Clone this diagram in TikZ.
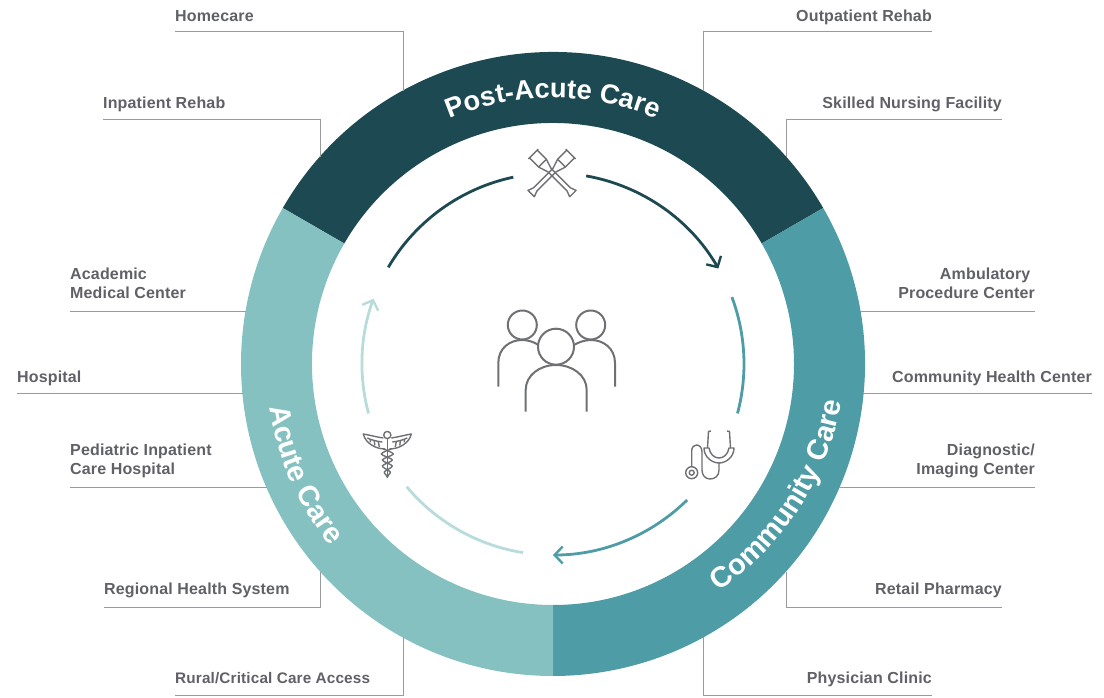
\documentclass[tikz,border=0pt]{standalone}
\usepackage{fontspec}
\setmainfont{Liberation Sans}
\newfontfamily\lblfont{Liberation Sans}[LetterSpace=1.0]
\usetikzlibrary{arrows.meta,calc,positioning,decorations.text}

\definecolor{postcol}{HTML}{1D4A52}
\definecolor{commcol}{HTML}{4E9CA5}
\definecolor{acutecol}{HTML}{85C1C0}
\definecolor{acutepale}{HTML}{B7DCDB}
\definecolor{labelcol}{HTML}{5F6166}
\definecolor{leadcol}{HTML}{9A9B9D}
\definecolor{iconcol}{HTML}{6E7074}

\newcommand{\ringfont}{\fontsize{27.3}{27}\selectfont\bfseries}
\newcommand{\ringfontb}{\fontsize{29}{29}\selectfont\bfseries}

\tikzset{
  x=1pt,y=1pt,
  lbl/.style={font=\lblfont\fontsize{16}{19}\selectfont\bfseries,text=labelcol,
              inner sep=0pt,text depth=3pt},
  leader/.style={draw=leadcol,line width=1pt},
  flow/.style={line width=2.8pt,>={Straight Barb[length=8pt,width=17pt,line width=2.4pt]}},
  icon/.style={draw=iconcol,line width=2pt,line join=round},
  thin icon/.style={draw=iconcol,line width=1.4pt,line join=round},
  crutch/.pic={
    \draw[thin icon] (-7,0) -- (7,0);
    \draw[thin icon] (-5.5,0) -- (-5.5,-13) -- (-2.3,-23) -- (-2.3,-50) -- (-4.5,-56) -- (4.5,-56)
                     -- (2.3,-50) -- (2.3,-23) -- (5.5,-13) -- (5.5,0);
    \draw[thin icon] (-5.5,-13) -- (5.5,-13);
  }
}

\begin{document}
\begin{tikzpicture}
%
  \useasboundingbox (0,0) rectangle (1104,697);
%
  % ring and flow arcs
  \begin{scope}[shift={(553,333)}]
    \fill[postcol] (150:312) arc (150:30:312) -- (30:241) arc (30:150:241) -- cycle;
    \fill[commcol] (30:312) arc (30:-90:312) -- (-90:241) arc (-90:30:241) -- cycle;
    \fill[acutecol] (270:312) arc (270:150:312) -- (150:241) arc (150:270:241) -- cycle;
%
    \path[decorate,decoration={text along path,text align=center,text color=white,
          text={|\ringfont|Post-Acute Care}}] (150:266) arc (150:30:266);
    \path[decorate,decoration={text along path,text align=center,text color=white,
          text={|\ringfontb|Community Care}}] ($(8,10)+(-93:284.5)$) arc (-93:27:284.5);
    \path[decorate,decoration={text along path,text align=center,text color=white,
          text={|\ringfontb|Acute Care}}] (144:287) arc (144:264:287);
%
    \draw[flow,postcol] (149.6:191) arc (149.6:102:191);
    \draw[flow,postcol,->] (80:191) arc (80:30:191);
    \draw[flow,commcol] (20.5:191) arc (20.5:-15:191);
    \draw[flow,commcol,->] (-45.4:191) arc (-45.4:-90:191);
    \draw[flow,acutepale] (261:191) arc (261:220:191);
    \draw[flow,acutepale,->] (195:191) arc (195:160:191);
  \end{scope}
%
  % left side labels
  \coordinate (hcStart) at (175,665);
  \coordinate (hcEnd) at (403,606);
  \node[lbl,above right=7pt and 0pt of hcStart] (homecare) {Homecare};
  \draw[leader] (hcStart) -| (hcEnd);
%
  \coordinate (irStart) at (103,577);
  \coordinate (irEnd) at (320,540);
  \node[lbl,above right=8pt and 0pt of irStart] (inpatient) {Inpatient Rehab};
  \draw[leader] (irStart) -| (irEnd);
%
  \coordinate (amStart) at (70,385);
  \coordinate (amEnd) at (246,385);
  \node[lbl,align=left,above right=10pt and 0pt of amStart] (academic) {Academic\\Medical Center};
  \draw[leader] (amStart) -- (amEnd);
%
  \coordinate (hoStart) at (17,303);
  \coordinate (hoEnd) at (243,303);
  \node[lbl,above right=8pt and 0pt of hoStart] (hospital) {Hospital};
  \draw[leader] (hoStart) -- (hoEnd);
%
  \coordinate (peStart) at (70,209);
  \coordinate (peEnd) at (267,209);
  \node[lbl,align=left,above right=10pt and 0pt of peStart] (pediatric) {Pediatric Inpatient\\Care Hospital};
  \draw[leader] (peStart) -- (peEnd);
%
  \coordinate (reStart) at (104,90);
  \coordinate (reEnd) at (320,125);
  \node[lbl,above right=9pt and 0pt of reStart] (regional) {Regional Health System};
  \draw[leader] (reStart) -| (reEnd);
%
  \coordinate (ruStart) at (175,2);
  \coordinate (ruEnd) at (403,60);
  \node[lbl,font=\lblfont\fontsize{15.3}{19}\selectfont\bfseries,above right=8pt and 0pt of ruStart] (rural) {Rural/Critical Care Access};
  \draw[leader] (ruStart) -| (ruEnd);
%
  % right side labels
  \coordinate (orStart) at (932,665);
  \coordinate (orEnd) at (703,606);
  \node[lbl,above left=7pt and 0pt of orStart] (outpatient) {Outpatient Rehab};
  \draw[leader] (orStart) -| (orEnd);
%
  \coordinate (snStart) at (1002,577);
  \coordinate (snEnd) at (786,540);
  \node[lbl,above left=8pt and 0pt of snStart] (skilled) {Skilled Nursing Facility};
  \draw[leader] (snStart) -| (snEnd);
%
  \coordinate (apStart) at (1035,385);
  \coordinate (apEnd) at (860,385);
  \node[lbl,align=right,above left=10pt and 0pt of apStart] (ambulatory) {Ambulatory\hspace*{4.5pt}\\Procedure Center};
  \draw[leader] (apStart) -- (apEnd);
%
  \coordinate (chStart) at (1092,303);
  \coordinate (chEnd) at (863,303);
  \node[lbl,above left=8pt and 0pt of chStart] (community) {Community Health Center};
  \draw[leader] (chStart) -- (chEnd);
%
  \coordinate (diStart) at (1035,209);
  \coordinate (diEnd) at (839,209);
  \node[lbl,align=right,above left=10pt and 0pt of diStart] (diagnostic) {Diagnostic/\\Imaging Center};
  \draw[leader] (diStart) -- (diEnd);
%
  \coordinate (rpStart) at (1002,90);
  \coordinate (rpEnd) at (786,125);
  \node[lbl,above left=9pt and 0pt of rpStart] (retail) {Retail Pharmacy};
  \draw[leader] (rpStart) -| (rpEnd);
%
  \coordinate (pcStart) at (932,2);
  \coordinate (pcEnd) at (703,60);
  \node[lbl,above left=8pt and 0pt of pcStart] (physician) {Physician Clinic};
  \draw[leader] (pcStart) -| (pcEnd);
%
  % people
  \draw[icon] (522.3,372) circle (14.5);
  \draw[icon] (590.7,372) circle (14.5);
  \draw[icon] (556,350.3) circle (18);
  \draw[icon] (498.3,310.3) -- (498.3,334)
       .. controls (498.3,349) and (510,357) .. (522,357) .. controls (528,357) and (534,355) .. (538.5,352);
  \draw[icon] (615,310.3) -- (615,334)
       .. controls (615,349) and (603,357) .. (591,357) .. controls (585,357) and (579,355) .. (574,352);
  \draw[icon] (525.7,285.3) -- (525.7,307) .. controls (525.7,322) and (540,332) .. (556,332)
       .. controls (572,332) and (586.7,322) .. (586.7,307) -- (586.7,285.3);
%
  % crutches
  \pic[rotate=45] at (533.3,543) {crutch};
  \pic[rotate=-45] at (570.7,543) {crutch};
%
  % caduceus
  \begin{scope}[shift={(387.3,239)}]
    \draw[thin icon] (0,23) circle (3.6);
    \draw[thin icon] (0,19.4) -- (0,-20);
    \foreach \s in {1,-1} {
      \begin{scope}[xscale=\s]
        \draw[thin icon] (4,20) .. controls (11,21) and (18,23) .. (24,24)
             .. controls (22,15) and (12,9) .. (2,9);
        \draw[thin icon] (5,16) .. controls (10,16.5) and (16,18) .. (20,20);
        \draw[thin icon] (9,16.5) -- (8,11) (13,17) -- (12.5,12.5) (17,18.5) -- (17,15.5);
        \draw[thin icon] plot[smooth] coordinates {(-4,9) (6,4) (-5,-2) (5,-8) (-3,-14) (1,-19)};
      \end{scope}
    }
  \end{scope}
%
  % stethoscope
  \draw[thin icon] (711,266) -- (708.5,265.5) -- (707.5,249);
  \draw[thin icon] (727,266) -- (729.5,265.5) -- (730.5,249);
  \draw[thin icon] (704,249) .. controls (704,240) and (712,234) .. (719,234)
       .. controls (726,234) and (734,240) .. (734,249) -- (729,249)
       .. controls (728,243) and (724,239) .. (719,239)
       .. controls (714,239) and (710,243) .. (709,249) -- cycle;
  \draw[thin icon] (719,234) -- (719,227) .. controls (719,221) and (715,218) .. (710,218)
       .. controls (705,218) and (702,222) .. (702,227) -- (702,245)
       .. controls (702,250) and (699,252) .. (696.5,252)
       .. controls (694,252) and (691.7,250) .. (691.7,246) -- (691.7,230.3);
  \draw[thin icon] (691.7,224.3) circle (6);
  \draw[thin icon] (691.7,224.3) circle (2.5);
\end{tikzpicture}
\end{document}
